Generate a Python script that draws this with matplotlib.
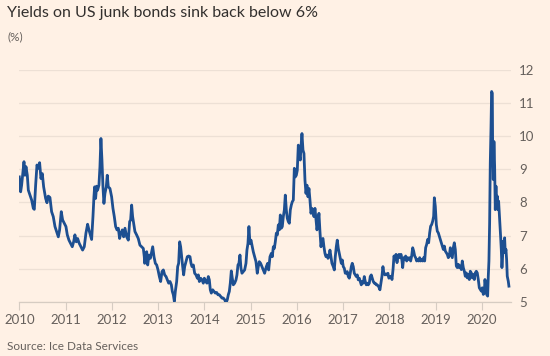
import matplotlib.pyplot as plt
import numpy as np

# weekly-ish readings, decimal year -> yield (%)
dates_a = [2010.000, 2010.029, 2010.050, 2010.101, 2010.122, 2010.144, 2010.173, 2010.195, 2010.231, 2010.267,
           2010.303, 2010.324, 2010.353, 2010.382, 2010.411, 2010.439, 2010.468, 2010.497, 2010.526, 2010.569,
           2010.598, 2010.626, 2010.662, 2010.698, 2010.734, 2010.771, 2010.807, 2010.843, 2010.871, 2010.907,
           2010.936, 2010.972, 2011.008, 2011.037, 2011.073, 2011.109, 2011.145, 2011.174, 2011.202, 2011.231,
           2011.260, 2011.296, 2011.332, 2011.368, 2011.404, 2011.440, 2011.476, 2011.505, 2011.534, 2011.563,
           2011.592, 2011.613, 2011.628, 2011.649, 2011.671, 2011.692, 2011.721, 2011.743, 2011.764, 2011.786,
           2011.808, 2011.829, 2011.851, 2011.880, 2011.901, 2011.923, 2011.959, 2011.995, 2012.024, 2012.053,
           2012.082, 2012.111, 2012.140, 2012.168, 2012.197, 2012.226, 2012.255, 2012.284, 2012.320, 2012.356,
           2012.385, 2012.406, 2012.428, 2012.449, 2012.471, 2012.499, 2012.535, 2012.571, 2012.607, 2012.644,
           2012.680, 2012.701]
yields_a = [8.77, 8.32, 8.52, 9.23, 8.82, 9.08, 8.82, 8.37, 8.22, 8.07,
            7.82, 7.79, 8.52, 9.13, 9.03, 9.20, 8.72, 8.87, 8.47, 8.12,
            7.99, 8.19, 8.15, 7.72, 7.57, 7.27, 7.12, 6.96, 7.17, 7.72,
            7.47, 7.37, 7.27, 7.02, 6.86, 6.76, 6.66, 6.81, 7.02, 6.81,
            6.91, 6.76, 6.66, 6.56, 6.66, 7.07, 7.34, 7.17, 7.02, 6.88,
            7.57, 8.17, 8.47, 8.12, 8.49, 8.37, 8.52, 9.08, 9.93, 9.28,
            8.47, 7.97, 8.27, 8.47, 8.82, 8.47, 8.42, 8.17, 7.82, 7.57,
            7.27, 7.17, 7.22, 6.91, 7.07, 7.17, 6.96, 7.22, 6.96, 6.86,
            7.42, 7.47, 7.92, 7.57, 7.37, 7.12, 7.02, 6.91, 6.71, 6.66,
            6.61, 6.36]

dates_b = [2012.710, 2012.731, 2012.753, 2012.775, 2012.803, 2012.832, 2012.861, 2012.883, 2012.911, 2012.940,
           2012.969, 2012.998, 2013.027, 2013.055, 2013.084, 2013.113, 2013.142, 2013.171, 2013.199, 2013.228,
           2013.257, 2013.286, 2013.307, 2013.329, 2013.351, 2013.372, 2013.401, 2013.423, 2013.444, 2013.466,
           2013.487, 2013.509, 2013.531, 2013.552, 2013.574, 2013.603, 2013.631, 2013.660, 2013.689, 2013.711,
           2013.732, 2013.761, 2013.790, 2013.819, 2013.848, 2013.869, 2013.891, 2013.920, 2013.948, 2013.977,
           2013.999, 2014.027, 2014.056, 2014.085, 2014.107, 2014.128, 2014.150, 2014.179, 2014.207, 2014.236,
           2014.265, 2014.294, 2014.323, 2014.351, 2014.380, 2014.409, 2014.438, 2014.467, 2014.495, 2014.517,
           2014.539, 2014.560, 2014.582, 2014.603, 2014.625, 2014.654, 2014.683, 2014.704, 2014.726, 2014.747,
           2014.769, 2014.791, 2014.812, 2014.841, 2014.870, 2014.899, 2014.920, 2014.942, 2014.963, 2014.985,
           2015.007, 2015.035, 2015.057, 2015.086, 2015.115, 2015.143, 2015.165, 2015.187, 2015.215, 2015.244,
           2015.273, 2015.302]
yields_b = [6.16, 6.46, 6.51, 6.11, 6.41, 6.31, 6.51, 6.66, 6.36, 6.16,
            6.11, 5.96, 5.76, 5.61, 5.91, 5.96, 5.81, 5.76, 5.66, 5.56,
            5.61, 5.51, 5.31, 5.21, 5.01, 5.31, 5.61, 6.06, 6.16, 6.81,
            6.66, 6.36, 6.06, 5.81, 6.06, 6.21, 6.36, 6.38, 6.36, 6.16,
            6.06, 6.11, 5.86, 5.81, 5.71, 5.81, 5.61, 5.71, 5.66, 5.56,
            5.71, 5.61, 5.56, 5.76, 5.66, 5.36, 5.26, 5.36, 5.31, 5.26,
            5.28, 5.21, 5.21, 5.16, 5.11, 5.11, 5.06, 4.97, 5.06, 5.21,
            5.31, 5.56, 5.93, 5.71, 5.51, 5.56, 5.66, 5.81, 6.11, 6.16,
            6.41, 6.01, 5.86, 5.91, 5.96, 6.16, 6.56, 6.76, 7.27, 6.76,
            6.86, 6.66, 6.51, 6.36, 6.21, 5.86, 6.06, 6.21, 6.16, 6.06,
            5.96, 5.86]

dates_c = [2015.339, 2015.368, 2015.389, 2015.418, 2015.447, 2015.468, 2015.490, 2015.512, 2015.533, 2015.555,
           2015.576, 2015.598, 2015.620, 2015.641, 2015.663, 2015.684, 2015.706, 2015.728, 2015.749, 2015.771,
           2015.792, 2015.814, 2015.836, 2015.857, 2015.879, 2015.900, 2015.922, 2015.944, 2015.965, 2015.987,
           2016.008, 2016.030, 2016.052, 2016.073, 2016.088, 2016.109, 2016.131, 2016.152, 2016.174, 2016.196,
           2016.217, 2016.239, 2016.260, 2016.282, 2016.304, 2016.325, 2016.347, 2016.368, 2016.390, 2016.412,
           2016.433, 2016.455, 2016.476, 2016.498, 2016.520, 2016.541, 2016.563, 2016.584, 2016.606, 2016.628,
           2016.649, 2016.671, 2016.692, 2016.714, 2016.736, 2016.757, 2016.786, 2016.808, 2016.829, 2016.851,
           2016.872, 2016.894, 2016.916, 2016.937, 2016.959, 2016.980, 2017.002, 2017.024, 2017.045, 2017.067,
           2017.088, 2017.110, 2017.132, 2017.153, 2017.175, 2017.196, 2017.218, 2017.240, 2017.261, 2017.283,
           2017.304, 2017.326, 2017.348, 2017.369, 2017.391, 2017.412, 2017.434, 2017.456, 2017.477, 2017.499,
           2017.520, 2017.542, 2017.564, 2017.585, 2017.607, 2017.628, 2017.650, 2017.672, 2017.693, 2017.715,
           2017.736, 2017.765, 2017.794, 2017.816, 2017.837, 2017.859, 2017.880, 2017.902, 2017.924, 2017.945,
           2017.967, 2017.988, 2018.010]
yields_c = [6.06, 6.16, 5.96, 6.36, 6.46, 6.36, 6.66, 6.61, 6.81, 7.07,
            7.02, 7.32, 7.17, 7.62, 7.22, 7.27, 7.57, 7.77, 8.22, 7.77,
            7.52, 7.42, 7.37, 7.77, 7.92, 8.02, 8.07, 9.03, 8.77, 8.82,
            8.97, 9.73, 9.43, 9.28, 9.68, 10.08, 9.58, 9.48, 8.67, 8.27,
            8.52, 8.17, 8.42, 8.07, 7.67, 7.82, 7.77, 7.57, 7.82, 7.47,
            7.17, 7.37, 7.67, 7.12, 6.66, 6.86, 6.91, 6.66, 6.46, 6.36,
            6.41, 6.31, 6.36, 6.56, 6.36, 6.16, 6.06, 5.96, 6.36, 6.66,
            6.86, 6.61, 6.46, 6.31, 6.16, 6.26, 6.06, 6.01, 5.86, 5.86,
            5.91, 5.76, 5.71, 5.86, 6.06, 6.16, 6.06, 5.86, 5.81, 5.76,
            5.81, 5.66, 5.71, 5.61, 5.51, 5.61, 5.56, 5.76, 5.61, 5.51,
            5.56, 5.51, 5.56, 5.76, 5.81, 5.71, 5.61, 5.56, 5.56, 5.51,
            5.51, 5.46, 5.36, 5.56, 5.76, 6.06, 5.86, 5.81, 5.84, 5.81,
            5.86, 5.71, 5.76]

dates_d = [2018.034, 2018.055, 2018.077, 2018.098, 2018.120, 2018.142, 2018.163, 2018.185, 2018.206, 2018.228,
           2018.250, 2018.271, 2018.286, 2018.307, 2018.329, 2018.350, 2018.372, 2018.394, 2018.415, 2018.437,
           2018.458, 2018.480, 2018.502, 2018.523, 2018.545, 2018.566, 2018.588, 2018.610, 2018.631, 2018.653,
           2018.674, 2018.696, 2018.718, 2018.739, 2018.761, 2018.782, 2018.804, 2018.826, 2018.847, 2018.869,
           2018.890, 2018.912, 2018.934, 2018.955, 2018.970, 2018.991, 2019.013, 2019.034, 2019.056, 2019.078,
           2019.099, 2019.121, 2019.142, 2019.164, 2019.186, 2019.207, 2019.229, 2019.250, 2019.272, 2019.294,
           2019.315, 2019.337, 2019.358, 2019.380, 2019.402, 2019.423, 2019.445, 2019.466, 2019.488, 2019.510,
           2019.531, 2019.553, 2019.574, 2019.596, 2019.618, 2019.639, 2019.661, 2019.682, 2019.704, 2019.726,
           2019.747, 2019.769, 2019.790, 2019.812, 2019.834, 2019.855, 2019.877, 2019.898, 2019.920, 2019.942,
           2019.963, 2019.985]
yields_d = [5.77, 5.67, 5.97, 6.38, 6.28, 6.43, 6.18, 6.38, 6.43, 6.33,
            6.43, 6.23, 6.03, 6.33, 6.28, 6.38, 6.23, 6.33, 6.28, 6.33,
            6.23, 6.38, 6.63, 6.53, 6.38, 6.33, 6.23, 6.28, 6.23, 6.33,
            6.23, 6.28, 6.23, 6.33, 6.23, 6.63, 6.73, 6.88, 6.78, 7.08,
            7.28, 7.33, 7.43, 7.58, 8.14, 7.88, 7.33, 7.13, 7.08, 6.98,
            6.88, 6.78, 6.68, 6.58, 6.68, 6.53, 6.48, 6.43, 6.33, 6.38,
            6.63, 6.48, 6.33, 6.63, 6.78, 6.58, 6.08, 6.03, 6.13, 6.03,
            6.08, 5.97, 6.23, 6.03, 5.92, 5.77, 5.87, 5.72, 5.82, 5.67,
            5.92, 5.87, 5.72, 5.82, 5.67, 5.87, 5.92, 5.87, 5.67, 5.42,
            5.37, 5.32]

dates_e = [2020.006, 2020.028, 2020.050, 2020.064, 2020.079, 2020.100, 2020.122, 2020.136, 2020.150, 2020.165,
           2020.179, 2020.194, 2020.208, 2020.223, 2020.230, 2020.244, 2020.258, 2020.273, 2020.287, 2020.302,
           2020.316, 2020.330, 2020.345, 2020.359, 2020.374, 2020.388, 2020.402, 2020.417, 2020.431, 2020.446,
           2020.460, 2020.474, 2020.489, 2020.503, 2020.518, 2020.532, 2020.546, 2020.568, 2020.582]
yields_e = [5.42, 5.22, 5.27, 5.67, 5.47, 5.22, 5.17, 5.77, 6.23, 7.38,
            9.19, 10.20, 11.35, 11.30, 9.69, 8.69, 9.84, 9.09, 7.78, 8.49,
            7.88, 8.19, 7.78, 8.04, 7.68, 7.38, 6.98, 6.58, 6.03, 6.38,
            6.83, 6.48, 6.93, 6.48, 6.58, 6.28, 5.77, 5.62, 5.47]

year_ticks = list(range(2010, 2021))
yield_ticks = [5, 6, 7, 8, 9, 10, 11, 12]

dates = np.array(dates_a + dates_b + dates_c + dates_d + dates_e)
yields = np.array(yields_a + yields_b + yields_c + yields_d + yields_e)

BG = '#FFF1E5'
GREY = '#66605C'
plt.rcParams['font.family'] = ['Lato', 'DejaVu Sans']

fig = plt.figure(figsize=(5.5, 3.56), dpi=100, facecolor=BG)
ax = fig.add_axes([0.0351, 0.1525, 0.894, 0.6509], facecolor=BG)

ax.plot(dates, yields, color='#1d4f91', lw=2.0, solid_joinstyle='round', zorder=3)

ax.set_xlim(2010, 2020.627)
ax.set_ylim(5, 12)
ax.set_yticks(yield_ticks)
ax.yaxis.tick_right()
ax.tick_params(axis='y', length=0, pad=6, labelsize=9.5, labelcolor=GREY)
ax.set_xticks(year_ticks)
ax.set_xticklabels([str(y) for y in year_ticks])
ax.tick_params(axis='x', length=6, width=0.8, color='#D6CCC2', pad=3,
               labelsize=9.5, labelcolor=GREY)
ax.grid(axis='y', color='#EDE0D5', lw=0.9, zorder=0)
for side in ['top', 'right', 'left']:
    ax.spines[side].set_visible(False)
ax.spines['bottom'].set_color('#D6CCC2')
ax.spines['bottom'].set_linewidth(0.9)

fig.text(0.013, 0.982, 'Yields on US junk bonds sink back below 6%', fontsize=11.5,
         color='#33302E', va='top', ha='left')
fig.text(0.013, 0.912, '(%)', fontsize=8.5, color=GREY, va='top', ha='left')
fig.text(0.013, 0.01, 'Source: Ice Data Services', fontsize=8.5, color=GREY, va='bottom', ha='left')

fig.savefig('out.png', dpi=100, facecolor=BG)
